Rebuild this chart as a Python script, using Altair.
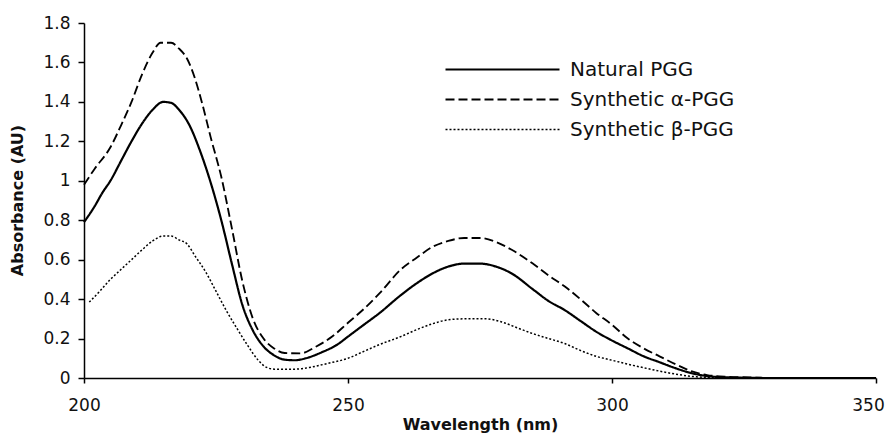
import altair as alt
import pandas as pd

series_names = ["Natural PGG", "Synthetic \u03b1-PGG", "Synthetic \u03b2-PGG"]

natural_wl = [200, 202, 203.5, 205, 207, 209, 211, 213, 215, 216.5, 218, 220, 222, 224, 226, 228, 230, 232, 234, 236, 238, 240, 242, 245, 248, 250, 253, 256, 260, 263, 266, 269, 272, 275, 278, 281, 285, 288, 291, 294, 297, 300, 303, 306, 309, 312, 315, 318, 322, 330, 340, 350]
natural_abs = [0.79, 0.87, 0.94, 1.00, 1.10, 1.20, 1.29, 1.36, 1.40, 1.395, 1.36, 1.28, 1.15, 0.99, 0.80, 0.58, 0.37, 0.24, 0.16, 0.115, 0.093, 0.09, 0.10, 0.13, 0.17, 0.21, 0.27, 0.33, 0.42, 0.48, 0.53, 0.565, 0.58, 0.58, 0.565, 0.53, 0.45, 0.39, 0.345, 0.29, 0.235, 0.19, 0.15, 0.11, 0.08, 0.05, 0.025, 0.01, 0.003, 0.0, 0.0, 0.0]

alpha_wl = [200, 202, 205, 207, 209, 211, 213, 214.5, 216.5, 218, 219.5, 221, 222.5, 224, 226, 228, 230, 232, 234, 236, 238, 241, 244, 247, 250, 253, 256, 260, 263, 266, 269, 272, 275, 278, 281, 285, 288, 291, 294, 297, 300, 303, 306, 309, 312, 315, 318, 322, 326, 330, 350]
alpha_abs = [0.98, 1.06, 1.17, 1.28, 1.40, 1.54, 1.65, 1.70, 1.70, 1.67, 1.62, 1.52, 1.38, 1.22, 1.02, 0.76, 0.49, 0.30, 0.20, 0.15, 0.127, 0.125, 0.16, 0.21, 0.28, 0.35, 0.43, 0.55, 0.61, 0.665, 0.695, 0.71, 0.71, 0.69, 0.65, 0.58, 0.52, 0.465, 0.40, 0.33, 0.27, 0.20, 0.15, 0.11, 0.07, 0.035, 0.015, 0.006, 0.003, 0.0, 0.0]

beta_wl = [201, 203, 205, 207, 209, 211, 213, 215, 216.5, 218, 219.5, 221, 223, 225, 227, 229, 231, 233, 234.5, 236, 240, 243, 246, 250, 253, 256, 260, 263, 266, 269, 272, 276, 279, 282, 285, 288, 291, 294, 297, 300, 303, 306, 309, 312, 316, 320, 330, 350]
beta_abs = [0.385, 0.44, 0.50, 0.55, 0.60, 0.65, 0.695, 0.72, 0.72, 0.70, 0.68, 0.62, 0.54, 0.44, 0.34, 0.25, 0.165, 0.09, 0.055, 0.045, 0.045, 0.055, 0.073, 0.10, 0.135, 0.17, 0.21, 0.245, 0.275, 0.295, 0.30, 0.30, 0.285, 0.255, 0.225, 0.20, 0.175, 0.14, 0.11, 0.09, 0.07, 0.052, 0.035, 0.02, 0.006, 0.002, 0.0, 0.0]

x_ticks = [200, 250, 300, 350]
y_ticks = [0, 0.2, 0.4, 0.6, 0.8, 1, 1.2, 1.4, 1.6, 1.8]

rows = []
for name, wl, ab in zip(series_names, [natural_wl, alpha_wl, beta_wl], [natural_abs, alpha_abs, beta_abs]):
    for w, a in zip(wl, ab):
        rows.append({"wavelength": w, "absorbance": a, "series": name})
df = pd.DataFrame(rows)

FONT = "DejaVu Sans"

chart = alt.Chart(df).mark_line(color="black", interpolate="monotone").encode(
    x=alt.X("wavelength:Q", scale=alt.Scale(domain=[200, 350], nice=False, zero=False),
            axis=alt.Axis(values=x_ticks, title="Wavelength (nm)", tickSize=5, labelPadding=14,
                          labelFlush=False, labelOffset=alt.expr("datum.value == 350 ? -8 : 0"),
                          titleY=51, titleBaseline="alphabetic")),
    y=alt.Y("absorbance:Q", scale=alt.Scale(domain=[0, 1.8], nice=False),
            axis=alt.Axis(values=y_ticks, title="Absorbance (AU)", format="~g", tickSize=6, labelPadding=8,
                          titleX=-62, titleY=177, titleAlign="center", titleBaseline="alphabetic", titleAngle=270)),
    strokeDash=alt.StrokeDash("series:N", scale=alt.Scale(domain=series_names, range=[[1, 0], [9, 4], [2, 2]]),
                              legend=alt.Legend(title=None, orient="none", legendX=360, legendY=31.5,
                                                symbolType="stroke", symbolSize=12996, clipHeight=30,
                                                rowPadding=0, labelOffset=9, labelLimit=300, padding=0,
                                                symbolStrokeColor="black", symbolStrokeWidth=1.2,
                                                labelFont=FONT, labelFontSize=20, labelColor="#111")),
    strokeWidth=alt.StrokeWidth("series:N", scale=alt.Scale(domain=series_names, range=[2.2, 1.5, 1.6]), legend=None),
    order="wavelength:Q",
).properties(
    width=792, height=355,
    autosize=alt.AutoSizeParams(type="none"),
    padding={"left": 76, "top": 15, "right": 9, "bottom": 57},
).configure_view(stroke=None).configure_axis(
    grid=False, domainColor="black", domainWidth=1.5, tickColor="black", tickWidth=1.5,
    labelFont=FONT, labelFontSize=17, labelColor="#111",
    titleFont=FONT, titleFontSize=16, titleFontWeight="bold", titleColor="#111",
)

chart.save("out.html", embed_options={"renderer": "svg", "actions": False})
